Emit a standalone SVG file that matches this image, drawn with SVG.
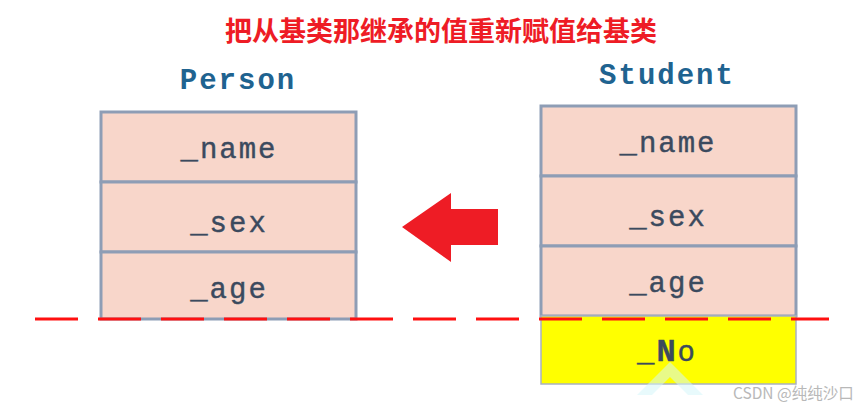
<svg xmlns="http://www.w3.org/2000/svg" width="867" height="409" viewBox="0 0 867 409">
<style>
.title{font-family:"Noto Sans CJK SC","Liberation Sans",sans-serif;font-weight:bold;font-size:27px;fill:#ee1c25}
.cls{font-family:"Liberation Mono","DejaVu Sans Mono",monospace;font-weight:bold;font-size:29px;fill:#1f6390;letter-spacing:2px}
.fld{font-family:"Liberation Mono","DejaVu Sans Mono",monospace;font-size:29px;fill:#3b4a5e;letter-spacing:2px;stroke:#3b4a5e;stroke-width:0.4}
.cell{fill:#f8d6ca;stroke:#8e9db5;stroke-width:3}
.wm{font-family:"Noto Sans CJK SC","Liberation Sans",sans-serif;font-size:15.5px;fill:#b8b8b8}
</style>
<rect width="867" height="409" fill="#ffffff"/>
<text class="title" x="441" y="41" text-anchor="middle">把从基类那继承的值重新赋值给基类</text>

<g id="person">
<text class="cls" x="238" y="89" text-anchor="middle">Person</text>
<rect class="cell" x="101" y="112" width="255" height="70"/>
<rect class="cell" x="101" y="182" width="255" height="70"/>
<rect class="cell" x="101" y="252" width="255" height="67"/>
<text class="fld" x="229" y="158" text-anchor="middle">_name</text>
<text class="fld" x="229" y="232" text-anchor="middle">_sex</text>
<text class="fld" x="229" y="298" text-anchor="middle">_age</text>
</g>

<g id="student">
<text class="cls" x="667" y="84" text-anchor="middle">Student</text>
<rect class="cell" x="541" y="106" width="255" height="70"/>
<rect class="cell" x="541" y="176" width="255" height="70"/>
<rect class="cell" x="541" y="246" width="255" height="70"/>
<rect x="541" y="316" width="255" height="68" fill="#ffff00" stroke="#a9b1c2" stroke-width="1.5"/>
<path d="M670 362 L703 395 L688 395 L670 377 L652 395 L637 395 Z" fill="#d6f6fa" opacity="0.55"/>
<text class="fld" x="668" y="152" text-anchor="middle">_name</text>
<text class="fld" x="668" y="226" text-anchor="middle">_sex</text>
<text class="fld" x="668" y="292" text-anchor="middle">_age</text>
<text class="fld" x="667" y="361" text-anchor="middle">_<tspan font-weight="bold" font-size="32">N</tspan>o</text>
</g>

<g id="connectors">
<path d="M402 227 L451 193 L451 209 L498 209 L498 245 L451 245 L451 262 Z" fill="#ee1c25"/>
<line x1="35" y1="319" x2="829" y2="319" stroke="#ff1010" stroke-width="3" stroke-dasharray="43 20"/>
</g>

<text class="wm" x="733" y="399">CSDN @纯纯沙口</text>
</svg>
